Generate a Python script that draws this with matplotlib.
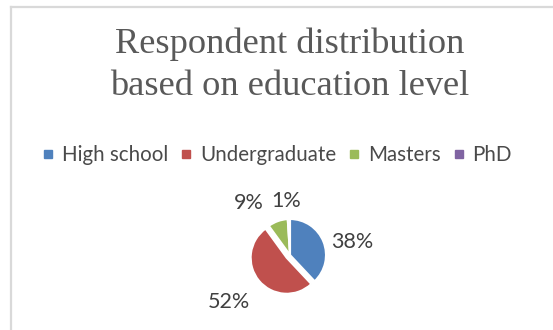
import numpy as np
import matplotlib
matplotlib.use("Agg")
import matplotlib.pyplot as plt
from matplotlib.lines import Line2D

# data
categories = ["High school", "Undergraduate", "Masters", "PhD"]
shares = [38, 52, 9, 1]
colors = ["#4F81BD", "#C0504D", "#9BBB59", "#8064A2"]
explode = [0, 0.12, 0, 0]
# label offsets (in pie radii) as Excel placed them
label_pos = [(1.72, 0.36), (-1.69, -1.31), (-1.14, 1.44), (-0.11, 1.5)]

W, H = 553, 330
fig = plt.figure(figsize=(W / 100, H / 100), dpi=100)
fig.patch.set_facecolor("white")

# chart frame (top and left edges visible)
fig.add_artist(Line2D([11 / W, 1], [1 - 6.5 / H, 1 - 6.5 / H], color="#d9d9d9", lw=1.6))
fig.add_artist(Line2D([11 / W, 11 / W], [0, 1 - 6.5 / H], color="#d9d9d9", lw=1.6))

txt = "#595959"
fig.text(290 / W, 1 - 53 / H, "Respondent distribution", ha="center", va="baseline",
         family="Liberation Serif", fontsize=26.2, color=txt)
fig.text(290 / W, 1 - 95 / H, "based on education level", ha="center", va="baseline",
         family="Liberation Serif", fontsize=26.2, color=txt)

# pie
cx, cy, r = 290, 255, 36
ax = fig.add_axes([(cx - r) / W, (H - cy - r) / H, 2 * r / W, 2 * r / H])
wedges, _ = ax.pie(shares, colors=colors, startangle=90, counterclock=False,
                   explode=explode, wedgeprops=dict(edgecolor="white", linewidth=1.5))
ax.set_xlim(-1, 1)
ax.set_ylim(-1, 1)
ax.set_aspect("equal")
ax.axis("off")
for v, (lx, ly) in zip(shares, label_pos):
    ax.text(lx, ly, "{}%".format(v), ha="center", va="center", fontsize=15.5,
            family="Lato", color="#404040", clip_on=False)

# legend
handles = [Line2D([], [], marker="s", ls="", color=c, markersize=6) for c in colors]
fig.legend(handles, categories, loc="center", bbox_to_anchor=(277 / W, 1 - 155 / H),
           ncol=4, frameon=False, handlelength=0.6, handletextpad=0.35,
           columnspacing=0.6, prop=dict(family="Lato", size=14.8), labelcolor="#4a4a4a")

plt.savefig("out.png", dpi=100)
